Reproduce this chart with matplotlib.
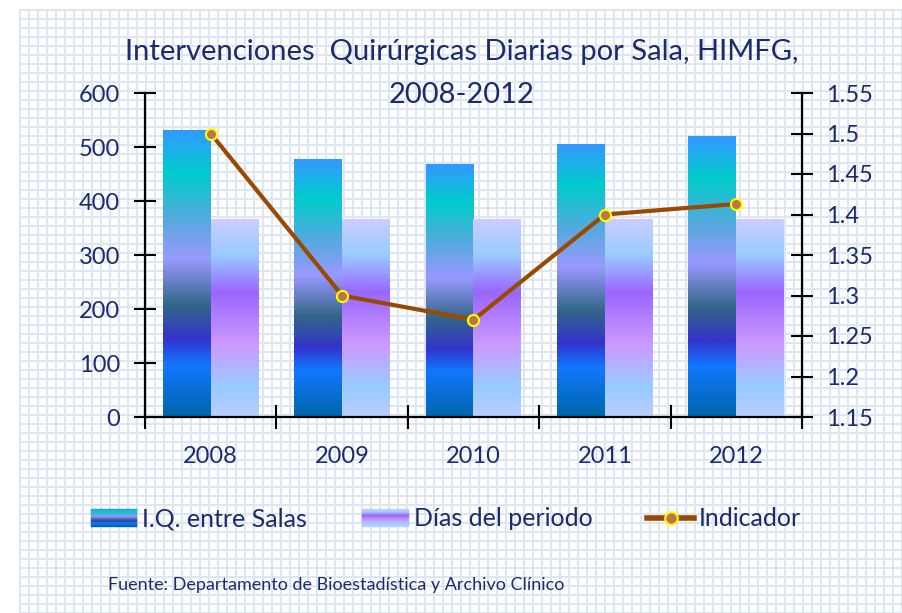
import numpy as np
import matplotlib
matplotlib.use("Agg")
import matplotlib.pyplot as plt
from matplotlib.colors import LinearSegmentedColormap, to_rgb
from matplotlib.legend_handler import HandlerBase
from matplotlib.patches import Rectangle
from matplotlib.lines import Line2D
from matplotlib.ticker import FixedLocator, FuncFormatter

years = ["2008", "2009", "2010", "2011", "2012"]
iq_salas = [530, 476, 467, 505, 520]
dias_periodo = [366, 365, 365, 365, 366]
indicador = [1.50, 1.30, 1.27, 1.40, 1.413]

NAVY = "#1B2B6B"
plt.rcParams['font.family'] = ['Lato', 'DejaVu Sans']

W, H = 903, 613
fig = plt.figure(figsize=(W / 100, H / 100), dpi=100)
fig.patch.set_facecolor("white")

# fondo cuadriculado
bg = np.ones((H, W, 3))
yy, xx = np.mgrid[0:H, 0:W]
mask = ((xx - 19) % 9 < 2) | ((yy - 9) % 9 < 2)
mask &= (xx >= 19) & (yy >= 9)
bg[mask] = to_rgb("#dce6f4")
fig.figimage(bg, xo=0, yo=0, origin="upper", zorder=-1)

ax = fig.add_axes([145 / W, 1 - 417 / H, (802 - 145) / W, (417 - 93) / H])
ax.patch.set_alpha(0)
ax2 = ax.twinx()
ax2.patch.set_alpha(0)

blue_cmap = LinearSegmentedColormap.from_list("iq", [
    (0.00, "#3399FF"), (0.15, "#00CCCC"), (0.31, "#55AADD"), (0.45, "#9999FF"),
    (0.61, "#336688"), (0.73, "#3333CC"), (0.82, "#1177FF"), (1.00, "#0066AA")])
purple_cmap = LinearSegmentedColormap.from_list("dias", [
    (0.00, "#CCCCFF"), (0.18, "#99CCFF"), (0.37, "#9966FF"), (0.63, "#CC99FF"),
    (0.85, "#99CCFF"), (1.00, "#BBCCFF")])

x = np.arange(len(years))
w = 0.365
grad = np.linspace(0, 1, 256).reshape(-1, 1)
bars1 = ax.bar(x - w / 2, iq_salas, w, facecolor="none", edgecolor="none")
bars2 = ax.bar(x + w / 2, dias_periodo, w, facecolor="none", edgecolor="none")
for bars, cmap in [(bars1, blue_cmap), (bars2, purple_cmap)]:
    for b in bars:
        bx, by, bw, bh = b.get_x(), b.get_y(), b.get_width(), b.get_height()
        ax.imshow(grad, cmap=cmap, extent=(bx, bx + bw, by, by + bh), aspect="auto",
                  origin="upper", interpolation="bilinear", zorder=2)

ax.set_xlim(-0.5, len(years) - 0.5)
ax.set_ylim(0, 600)
ax.set_yticks(range(0, 601, 100))

ax2.plot(x, indicador, color="#994A00", lw=3, marker="o", markersize=8,
         markerfacecolor="#BC7448", markeredgecolor="#FFFF00", markeredgewidth=1.5,
         solid_capstyle="round", zorder=5)
ax2.set_ylim(1.15, 1.55)
ax2.yaxis.set_major_locator(FixedLocator(np.round(np.arange(1.15, 1.5501, 0.05), 2)))
ax2.yaxis.set_major_formatter(FuncFormatter(lambda v, p: f"{v:g}"))

for s in ["top", "right"]:
    ax.spines[s].set_visible(False)
for s in ["top", "left", "bottom"]:
    ax2.spines[s].set_visible(False)
for sp in [ax.spines["left"], ax.spines["bottom"], ax2.spines["right"]]:
    sp.set_linewidth(1.6)
    sp.set_color("black")

ax.set_xticks(x)
ax.set_xticklabels(years)
ax.xaxis.set_minor_locator(FixedLocator(np.arange(-0.5, len(years), 1.0)))
ax.tick_params(axis="x", which="major", length=0, pad=21, labelsize=17, labelcolor=NAVY)
ax.tick_params(axis="x", which="minor", length=17, width=1.5, direction="inout")
ax.tick_params(axis="y", length=16, width=1.5, direction="inout", pad=10,
               labelsize=17, labelcolor=NAVY)
ax2.tick_params(axis="y", length=16, width=1.5, direction="inout", pad=9,
                labelsize=17, labelcolor=NAVY)

fig.text(462 / W, 1 - 52 / H, "Intervenciones  Quirúrgicas Diarias por Sala, HIMFG,",
         ha="center", va="center", fontsize=21, color=NAVY)
fig.text(462 / W, 1 - 95 / H, "2008-2012", ha="center", va="center", fontsize=21, color=NAVY)


class GradientHandler(HandlerBase):
    def __init__(self, cmap, n=30):
        super().__init__()
        self.cmap = cmap
        self.n = n

    def create_artists(self, legend, orig_handle, xdescent, ydescent, width, height, fontsize, trans):
        arts = []
        for i in range(self.n):
            c = self.cmap(i / (self.n - 1))
            arts.append(Rectangle((-xdescent, -ydescent + height * (1 - (i + 1) / self.n)),
                                  width, height / self.n, facecolor=c, edgecolor=c,
                                  lw=0.3, transform=trans))
        return arts


h1 = Rectangle((0, 0), 1, 1)
h2 = Rectangle((0, 0), 1, 1)
h3 = Line2D([], [], color="#994A00", lw=4, marker="o", markersize=9,
            markerfacecolor="#BC7448", markeredgecolor="#FFFF00", markeredgewidth=1.5)
fig.legend([h1, h2, h3], ["I.Q. entre Salas", "Días del periodo", "Indicador"],
           handler_map={h1: GradientHandler(blue_cmap), h2: GradientHandler(purple_cmap)},
           ncol=3, loc="center", bbox_to_anchor=(446 / W, 1 - 519 / H), frameon=False,
           fontsize=18, labelcolor=NAVY, handlelength=1.85, handleheight=0.7,
           handletextpad=0.2, columnspacing=2.2)

fig.text(108 / W, 1 - 585 / H, "Fuente: Departamento de Bioestadística y Archivo Clínico",
         ha="left", va="center", fontsize=13, color=NAVY)

fig.savefig("out.png", dpi=100)
